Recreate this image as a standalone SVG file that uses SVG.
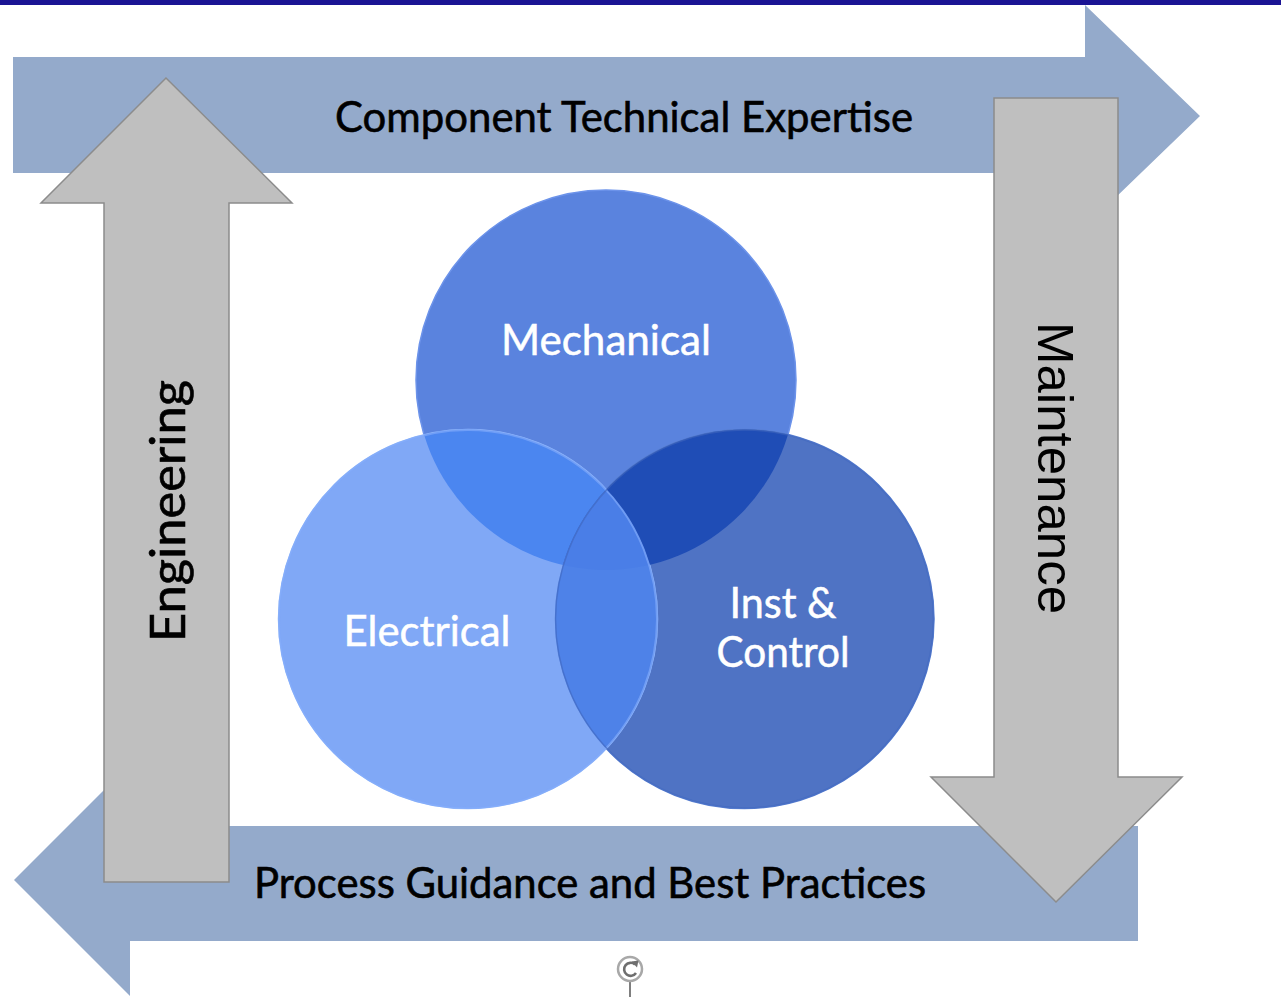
<svg xmlns="http://www.w3.org/2000/svg" width="1281" height="997" viewBox="0 0 1281 997">
<style>
.blue{fill:#94AACB;}
.grey{fill:#BFBFBF;stroke:#8C8C8C;stroke-width:1.5;}
.lbl{font-family:Lato,"Open Sans","Liberation Sans",sans-serif;fill:#000;stroke:#000;stroke-width:0.6;}
.wl{font-family:Lato,"Open Sans","Liberation Sans",sans-serif;fill:#fff;stroke:#fff;stroke-width:0.5;font-size:42px;}
</style>
<defs>
<clipPath id="cM"><circle cx="606" cy="380" r="190"/></clipPath>
<clipPath id="cE"><circle cx="468" cy="619" r="189.5"/></clipPath>
</defs>
<rect x="0" y="0" width="1281" height="997" fill="#fff"/>
<rect x="0" y="0" width="1281" height="5" fill="#1B1494"/>

<g id="arrows">
<g id="arrow-component-expertise">
<polygon class="blue" points="13,57 1085,57 1085,5 1200,116 1085,227 1085,173 13,173"/>
<text class="lbl" x="335" y="132" font-size="42" textLength="578" lengthAdjust="spacingAndGlyphs">Component Technical Expertise</text>
</g>
<g id="arrow-process-guidance">
<polygon class="blue" points="1138,826 130,826 130,764 14,880 130,996 130,941 1138,941"/>
<text class="lbl" x="254" y="898" font-size="42" textLength="672" lengthAdjust="spacingAndGlyphs">Process Guidance and Best Practices</text>
</g>
<g id="arrow-engineering">
<polygon class="grey" points="104,882 104,203 41,203 166,78 292,203 229,203 229,882"/>
<text class="lbl" transform="translate(185,511) rotate(-90)" x="-131" y="0" font-size="48" textLength="262" lengthAdjust="spacingAndGlyphs">Engineering</text>
</g>
<g id="arrow-maintenance">
<polygon class="grey" points="994,98 1118,98 1118,777 1182,777 1056,902 931,777 994,777"/>
<text transform="translate(1038,468) rotate(90)" x="-146" y="0" font-family="'Liberation Sans',Arial,sans-serif" font-size="50" fill="#000" textLength="292" lengthAdjust="spacingAndGlyphs">Maintenance</text>
</g>
</g>

<g id="venn">
<g id="mechanical">
<circle cx="606" cy="380" r="190" fill="#5A83DE" stroke="#6C93EA" stroke-width="1.5"/>
</g>
<g id="inst-control">
<circle cx="744.5" cy="619" r="189.5" fill="#4F73C4" stroke="#5A80D2" stroke-width="1.5"/>
</g>
<g id="electrical">
<circle cx="468" cy="619" r="189.5" fill="#80A8F6" stroke="#93B8FA" stroke-width="1.5"/>
</g>
<g id="overlaps">
<circle cx="468" cy="619" r="189.5" fill="#4B86F0" clip-path="url(#cM)"/>
<circle cx="744.5" cy="619" r="189.5" fill="#1F4DB6" clip-path="url(#cM)"/>
<circle cx="744.5" cy="619" r="189.5" fill="#4E82E8" clip-path="url(#cE)"/>
<g clip-path="url(#cM)"><circle cx="744.5" cy="619" r="189.5" fill="#4A7EE7" clip-path="url(#cE)"/></g>
<circle cx="468" cy="619" r="189" fill="none" stroke="#7FA8FA" stroke-width="2" opacity="0.7"/>
<circle cx="744.5" cy="619" r="189" fill="none" stroke="#3F66BC" stroke-width="1.5" opacity="0.6"/>
</g>
<text class="wl" x="606" y="355" text-anchor="middle" textLength="210" lengthAdjust="spacingAndGlyphs">Mechanical</text>
<text class="wl" x="427" y="646" text-anchor="middle" textLength="167" lengthAdjust="spacingAndGlyphs">Electrical</text>
<text class="wl" x="783" y="618" text-anchor="middle" textLength="107" lengthAdjust="spacingAndGlyphs">Inst &amp;</text>
<text class="wl" x="783" y="667" text-anchor="middle" textLength="133" lengthAdjust="spacingAndGlyphs">Control</text>
</g>

<g id="rotate-handle">
<line x1="630" y1="982" x2="630" y2="997" stroke="#555" stroke-width="1.5"/>
<circle cx="630" cy="969" r="12" fill="#fff" stroke="#A8A8A8" stroke-width="2.5"/>
<path d="M635,964.5 A6.5,6.5 0 1 0 636,973" fill="none" stroke="#6E6E6E" stroke-width="2.6"/>
<polygon points="631.5,961.5 638.5,960.5 637,967.5" fill="#6E6E6E"/>
</g>
</svg>
